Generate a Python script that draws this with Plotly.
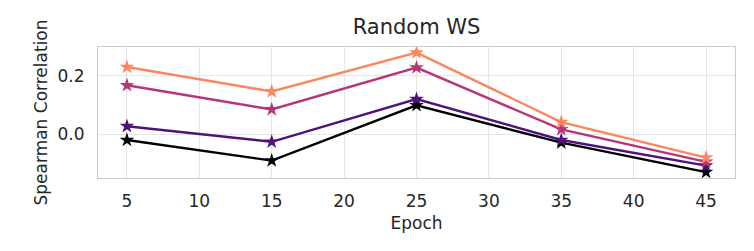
import plotly.graph_objects as go

epochs = [5, 15, 25, 35, 45]
series_names = ["s1", "s2", "s3", "s4"]
series_values = [
    [-0.019, -0.089, 0.099, -0.028, -0.128],
    [0.028, -0.025, 0.120, -0.019, -0.106],
    [0.167, 0.085, 0.227, 0.017, -0.093],
    [0.229, 0.146, 0.278, 0.042, -0.079],
]
colors = ["#000000", "#4f127b", "#b63679", "#fb8761"]
x_ticks = [5, 10, 15, 20, 25, 30, 35, 40, 45]
y_ticks = [0.0, 0.2]

fig = go.Figure()
for name, vals, c in zip(series_names, series_values, colors):
    fig.add_trace(go.Scatter(
        x=epochs, y=vals, name=name, mode="lines+markers",
        line=dict(color=c, width=2.4),
        marker=dict(symbol="star", size=11, color=c),
        showlegend=False,
    ))

font = "DejaVu Sans"
fig.update_layout(
    width=754, height=251,
    margin=dict(l=98, r=19, t=47, b=73, autoexpand=False),
    paper_bgcolor="white", plot_bgcolor="white",
    font=dict(family=font, color="#262626", size=17),
    title=dict(text="Random WS", x=0.5, xref="paper", y=0.893, yanchor="middle",
               font=dict(size=21, color="#262626")),
    xaxis=dict(range=[3, 47], tickvals=x_ticks, ticktext=[str(t) for t in x_ticks],
               showgrid=True, gridcolor="#e5e5e5", gridwidth=1,
               showline=True, linecolor="#cccccc", linewidth=1, mirror=True,
               zeroline=False, ticks="", ticklabelstandoff=8, automargin=False,
               tickfont=dict(size=17),
               title=dict(text="Epoch", font=dict(size=17), standoff=6)),
    yaxis=dict(range=[-0.148, 0.297], tickvals=y_ticks, ticktext=["0.0", "0.2"],
               showgrid=True, gridcolor="#e5e5e5", gridwidth=1,
               showline=True, linecolor="#cccccc", linewidth=1, mirror=True,
               zeroline=False, ticks="", ticklabelstandoff=9, automargin=False,
               tickfont=dict(size=17),
               title=dict(text="Spearman Correlation", font=dict(size=17), standoff=5)),
)

fig.write_html("out.html", config={"displayModeBar": False},
               post_script="document.body.style.margin='0';")
